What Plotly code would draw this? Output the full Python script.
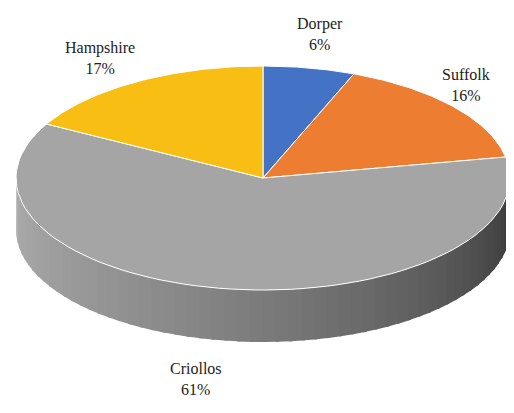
import numpy as np
import plotly.graph_objects as go

breeds = ['Dorper', 'Suffolk', 'Criollos', 'Hampshire']
shares = [6, 16, 61, 17]
colors = ['#4472C4', '#ED7D31', '#A5A5A5', '#F9BE14']

# ellipse geometry (pixel-like units, y up)
cx, cy, rx, ry, depth = 255, 243, 247, 112, 52

def pt(theta_deg, dy=0):
    t = np.radians(theta_deg)
    return cx + rx * np.sin(t), cy + ry * np.cos(t) - dy

fig = go.Figure()

# side wall, front half, shaded strips light -> dark
n = 60
edges = np.linspace(90, 270, n + 1)[::-1]  # left (270) to right (90)
for i in range(n):
    a, b = edges[i], edges[i + 1] - 0.8
    th = np.linspace(a, b, 6)
    xt, yt = pt(th)
    xb, yb = pt(th[::-1], depth)
    f = i / (n - 1)
    g = int(170 - 115 * f ** 1.3)
    fig.add_trace(go.Scatter(
        x=np.r_[xt, xb], y=np.r_[yt, yb], fill='toself', mode='lines',
        line=dict(width=0), fillcolor=f'rgb({g},{g},{g})',
        hoverinfo='skip', showlegend=False))

# top face slices, clockwise from 12 o'clock
start = 0
for name, s, c in zip(breeds, shares, colors):
    end = start + s * 3.6
    th = np.linspace(start, end, 80)
    xs, ys = pt(th)
    fig.add_trace(go.Scatter(
        x=np.r_[cx, xs, cx], y=np.r_[cy, ys, cy], fill='toself', mode='lines',
        line=dict(width=1, color='white'), fillcolor=c,
        name=name, hoverinfo='name', showlegend=False))
    start = end

label_pos = {'Dorper': (312, 387), 'Suffolk': (458, 336),
             'Criollos': (188, 42), 'Hampshire': (92, 363)}
for name, s in zip(breeds, shares):
    x, y = label_pos[name]
    fig.add_annotation(x=x, y=y, text=f'{name}<br>{s}%', showarrow=False,
                       font=dict(family='Liberation Serif', size=16, color='#222'))

fig.update_layout(
    width=514, height=413, margin=dict(l=0, r=0, t=0, b=0),
    plot_bgcolor='white', paper_bgcolor='white',
    xaxis=dict(range=[0, 514], visible=False),
    yaxis=dict(range=[0, 413], visible=False),
)

fig.write_html('out.html')
